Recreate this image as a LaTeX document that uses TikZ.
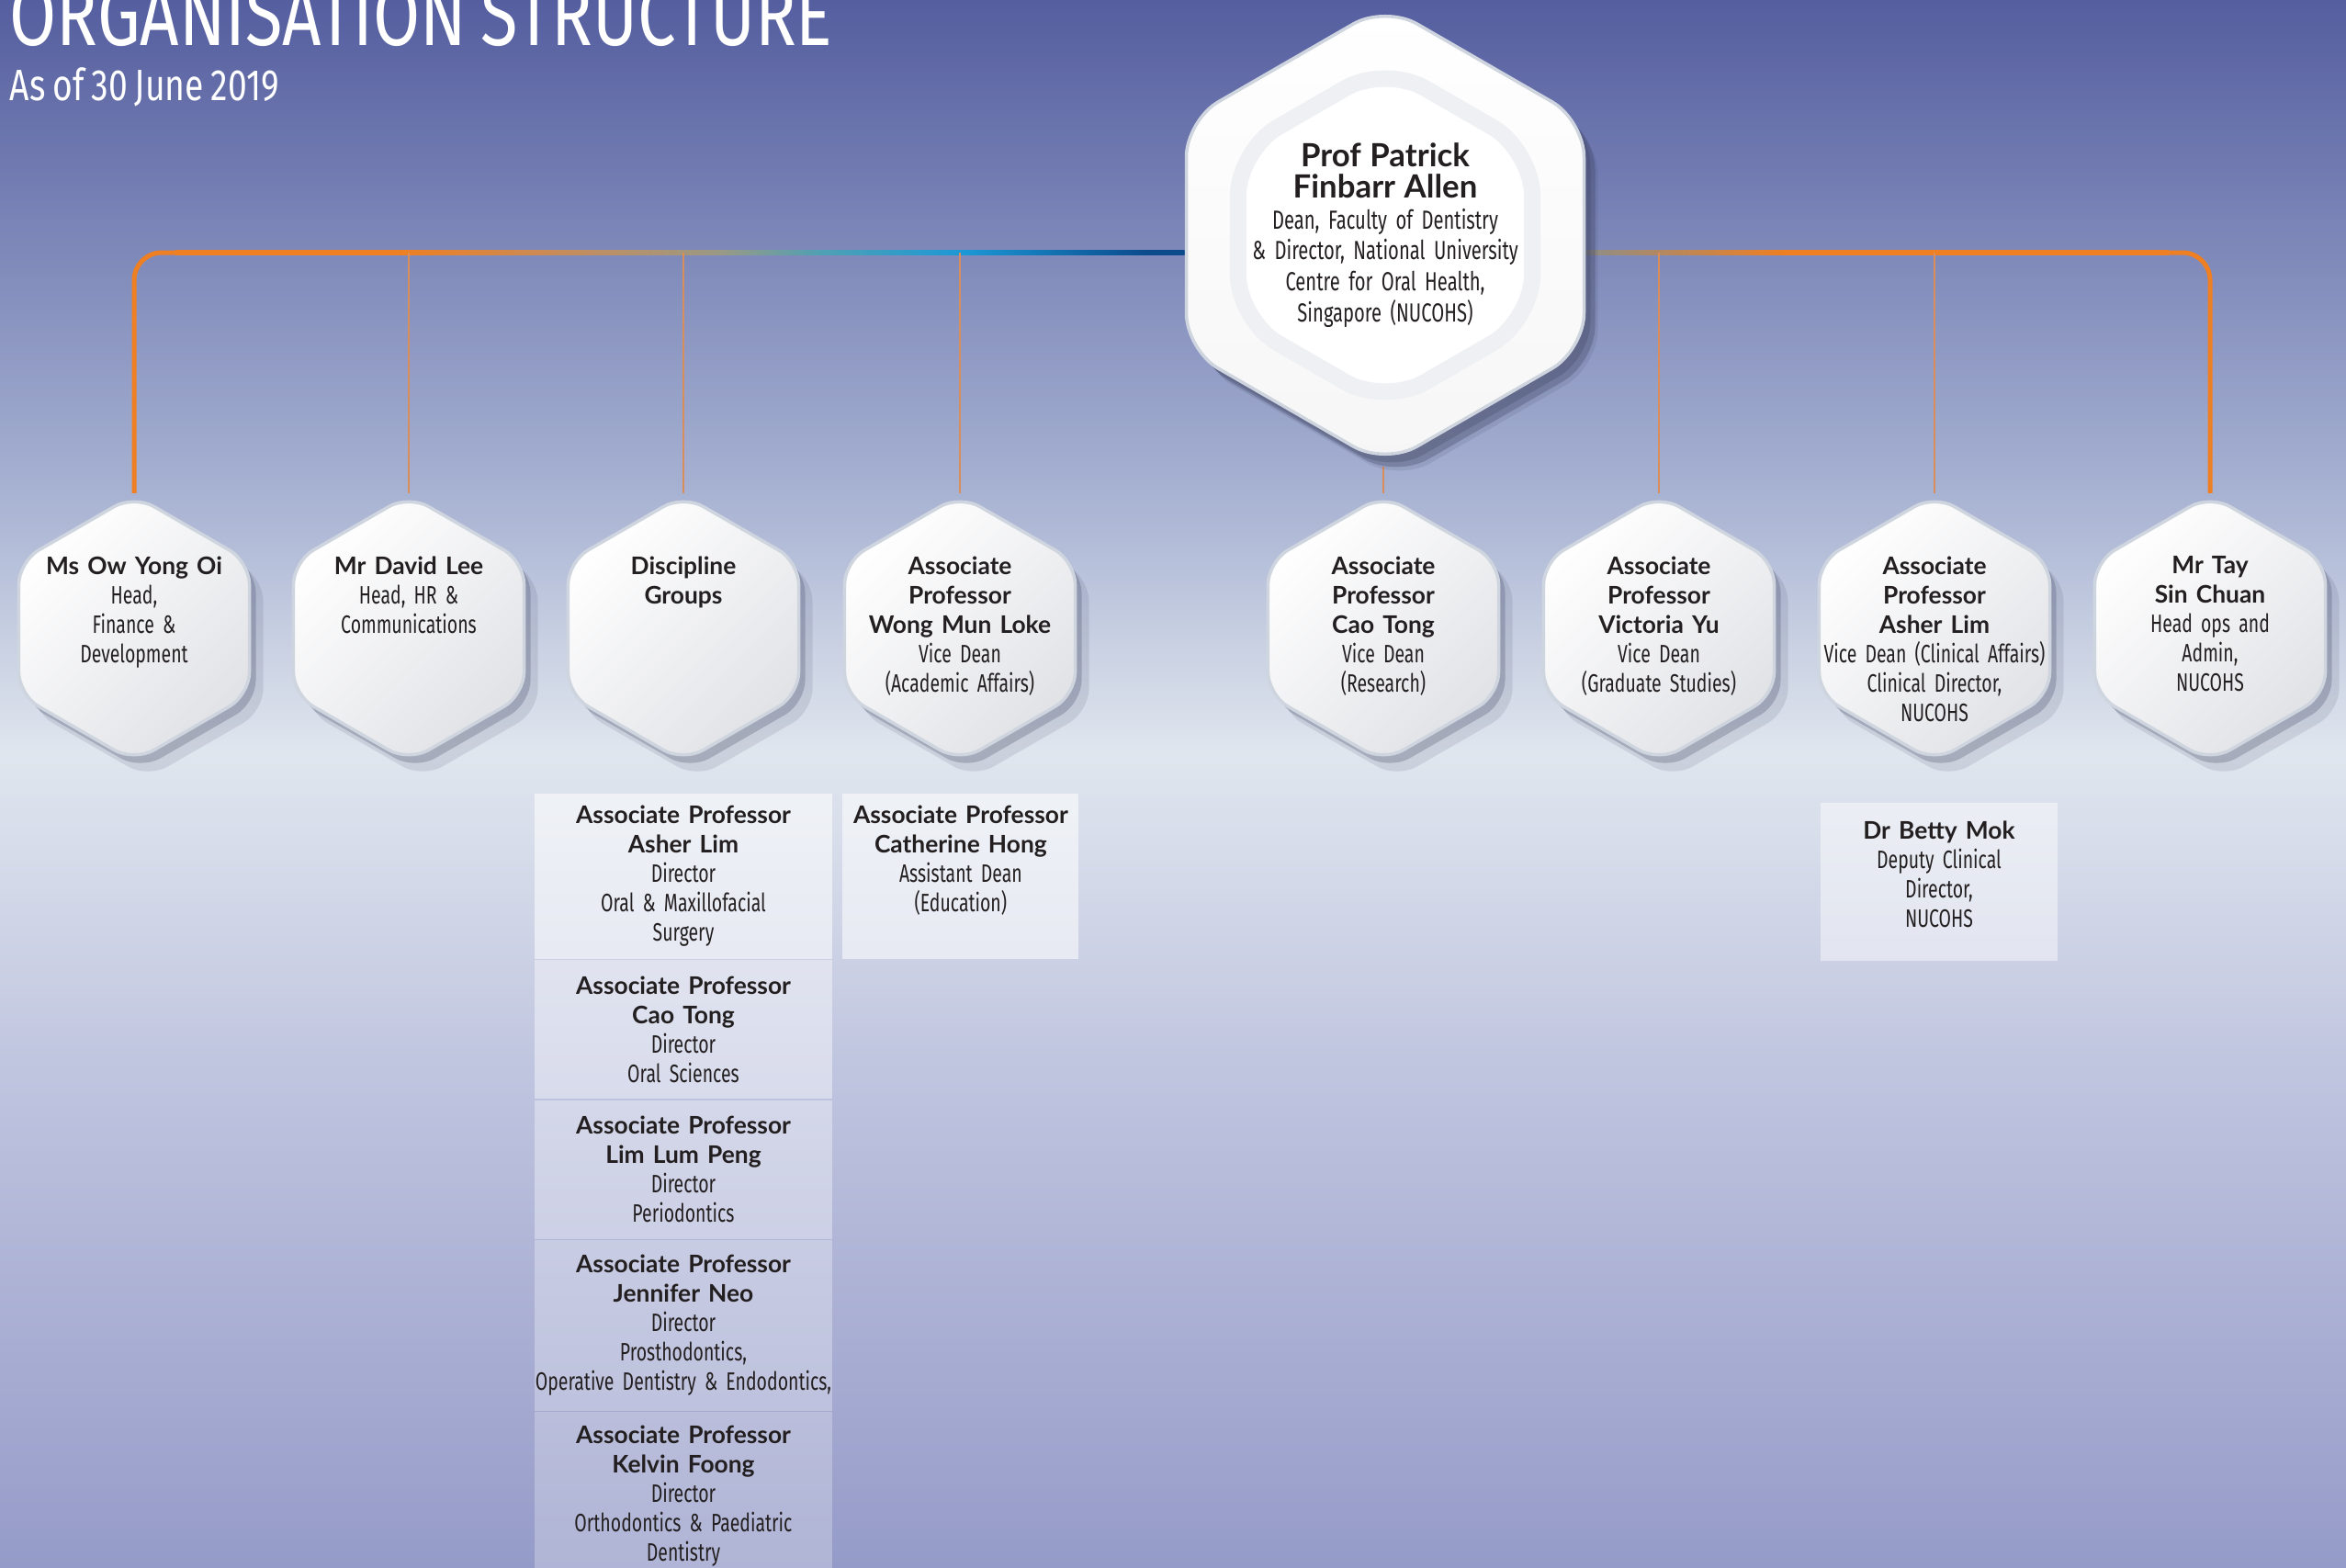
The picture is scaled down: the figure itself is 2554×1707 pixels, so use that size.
\documentclass[tikz,border=0pt]{standalone}
\usepackage{fontspec}
\setmainfont{Fira Sans}
\newfontfamily\namefont{Lato}
\newfontfamily\descfont{Fira Sans}[FakeStretch=0.71,WordSpace=0.6]
\newfontfamily\titlefont{Fira Sans}[FakeStretch=0.78,WordSpace=0.8]
\usetikzlibrary{shapes.geometric}
\usetikzlibrary{shadows}
\usetikzlibrary{positioning,calc,backgrounds}
\hyphenpenalty=10000
\exhyphenpenalty=10000
\definecolor{ink}{HTML}{231F20}
\definecolor{orng}{HTML}{EE7F22}
\definecolor{tan}{HTML}{C88C5A}
\definecolor{olive}{HTML}{9A9986}
\definecolor{tealish}{HTML}{4FA0B4}
\definecolor{skyblue}{HTML}{1C98D6}
\definecolor{navy}{HTML}{0B4B8C}
\definecolor{greyol}{HTML}{8E8E88}
\definecolor{feed}{HTML}{D98D5A}
\definecolor{rim}{HTML}{CFD5DF}
\definecolor{hexgray}{HTML}{E1E2E6}
\definecolor{shadowc}{HTML}{3A3F5C}
\definecolor{ringgray}{HTML}{EFF0F3}
\definecolor{bgtop}{HTML}{555E9F}
\definecolor{bghigh}{HTML}{A3AED0}
\definecolor{bgmid}{HTML}{E0E6EE}
\definecolor{bglow}{HTML}{BDC2DE}
\definecolor{bgbot}{HTML}{959BC8}
\pgfdeclareverticalshading{bgshade}{100bp}{color(0bp)=(bgbot); color(25bp)=(bgbot); color(40bp)=(bglow); color(51bp)=(bgmid); color(60bp)=(bghigh); color(75bp)=(bgtop); color(100bp)=(bgtop)}
\pgfdeclarehorizontalshading{barleft}{100bp}{color(0bp)=(orng); color(36bp)=(orng); color(44bp)=(tan); color(52bp)=(olive); color(57bp)=(tealish); color(64bp)=(skyblue); color(73bp)=(navy); color(100bp)=(navy)}
\pgfdeclarehorizontalshading{barright}{100bp}{color(0bp)=(greyol); color(25bp)=(greyol); color(42bp)=(orng); color(100bp)=(orng)}
\newcommand{\who}[1]{{\namefont\bfseries\fontsize{7.5}{9.1}\selectfont #1}}

\begin{document}
\begin{tikzpicture}[x=0.1mm,y=-0.1mm,
		hexa/.style={regular polygon,regular polygon sides=6,shape border rotate=30,minimum size=29mm,inner sep=0pt,
			rounded corners=2.5mm,draw=rim,line width=0.35mm,top color=white,bottom color=hexgray,shading angle=45,
			drop shadow={shadow xshift=0.7mm,shadow yshift=-0.9mm,opacity=.25,fill=shadowc},
			drop shadow={shadow xshift=1.5mm,shadow yshift=-1.8mm,opacity=.12,fill=shadowc}},
		hexlabel/.style={text width=25mm,align=center,inner sep=0pt,text=ink,font=\descfont\fontsize{7.8}{9.1}\selectfont},
		gbox/.style={rectangle,fill=white,fill opacity=#1,text opacity=1,inner sep=0pt,align=center,text=ink,
			font=\descfont\fontsize{7.8}{9.1}\selectfont},
		barline/.style={draw=orng,line width=0.5mm,rounded corners=3mm},
		feeder/.style={draw=feed,line width=0.28mm}]
	\useasboundingbox (0,0) rectangle (2554,1707);
	\clip (0,0) rectangle (2554,1707);

	\node[anchor=base west,inner sep=0pt,text=white,font=\titlefont\fontsize{27}{27}\selectfont] (title) at (10,49) {ORGANISATION STRUCTURE};
	\node[anchor=base west,inner sep=0pt,text=white,font=\titlefont\fontsize{13.6}{14}\selectfont] (asof) at (10,109) {As of 30 June 2019};

	% dean
	\node[hexa,minimum size=50mm,rounded corners=4mm,top color=white,bottom color=gray!7,
		drop shadow={shadow xshift=1.2mm,shadow yshift=-1.4mm,opacity=.3,fill=shadowc}] (dean) at (1508,256) {};
	\node[regular polygon,regular polygon sides=6,shape border rotate=30,minimum size=37mm,rounded corners=5mm,
		draw=ringgray,line width=1.8mm,fill=white] (deanin) at (dean) {};
	\node[hexlabel,text width=31mm,font=\descfont\fontsize{8.1}{9.6}\selectfont] (deantxt) at (dean)
		{{\namefont\bfseries\fontsize{9.9}{9.6}\selectfont Prof Patrick\\Finbarr Allen}\\Dean, Faculty of Dentistry\\\& Director, National University\\Centre for Oral Health,\\Singapore (NUCOHS)};

	% second row
	\node[hexa] (h1) at (146,684) {};
	\node[hexa] (h2) at (445,684) {};
	\node[hexa] (h3) at (744,684) {};
	\node[hexa] (h4) at (1045,684) {};
	\node[hexa] (h5) at (1506,684) {};
	\node[hexa] (h6) at (1806,684) {};
	\node[hexa] (h7) at (2106,684) {};
	\node[hexa] (h8) at (2406,684) {};
	\node[hexlabel,below=6.8mm of h1.north] (t1) {\who{Ms Ow Yong Oi}\\Head,\\Finance \&\\Development};
	\node[hexlabel,below=6.8mm of h2.north] (t2) {\who{Mr David Lee}\\Head, HR \&\\Communications};
	\node[hexlabel,below=6.8mm of h3.north] (t3) {\who{Discipline\\Groups}};
	\node[hexlabel,below=6.8mm of h4.north] (t4) {\who{Associate\\Professor\\Wong Mun Loke}\\Vice Dean\\(Academic Affairs)};
	\node[hexlabel,below=6.8mm of h5.north] (t5) {\who{Associate\\Professor\\Cao Tong}\\Vice Dean\\(Research)};
	\node[hexlabel,below=6.8mm of h6.north] (t6) {\who{Associate\\Professor\\Victoria Yu}\\Vice Dean\\(Graduate Studies)};
	\node[hexlabel,below=6.8mm of h7.north] (t7) {\who{Associate\\Professor\\Asher Lim}\\Vice Dean (Clinical Affairs)\\Clinical Director,\\NUCOHS};
	\node[hexlabel,below=6.8mm of h8.north] (t8) {\who{Mr Tay\\Sin Chuan}\\Head ops and\\Admin,\\NUCOHS};

	% boxes
	\node[gbox=.55,text width=32.4mm,minimum height=18mm,below=3.2mm of h3] (dg1) {\who{Associate Professor\\Asher Lim}\\Director\\Oral \& Maxillofacial\\Surgery};
	\node[gbox=.42,text width=32.4mm,minimum height=15.1mm,below=0pt of dg1] (dg2) {\who{Associate Professor\\Cao Tong}\\Director\\Oral Sciences};
	\node[gbox=.36,text width=32.4mm,minimum height=15.1mm,below=0pt of dg2] (dg3) {\who{Associate Professor\\Lim Lum Peng}\\Director\\Periodontics};
	\node[gbox=.3,text width=32.4mm,minimum height=18.6mm,below=0pt of dg3] (dg4) {\who{Associate Professor\\Jennifer Neo}\\Director\\Prosthodontics,\\\makebox[0pt]{Operative Dentistry \& Endodontics,}};
	\node[gbox=.26,text width=32.4mm,minimum height=18.2mm,below=0pt of dg4] (dg5) {\who{Associate Professor\\Kelvin Foong}\\Director\\Orthodontics \& Paediatric\\Dentistry};
	\node[gbox=.55,text width=25.7mm,minimum height=18mm,text depth=13.4mm,right=1mm of dg1] (ad) {\who{Associate Professor\\Catherine Hong}\\Assistant Dean\\(Education)};
	\node[gbox=.45,text width=25.8mm,minimum height=17.2mm,text depth=11.2mm,below=4.2mm of h7,xshift=0.5mm] (bm) {\who{Dr Betty Mok}\\Deputy Clinical\\Director,\\NUCOHS};

	\begin{pgfonlayer}{background}
		\shade[shading=bgshade] (0,0) rectangle (2554,1707);
		\coordinate (bar) at (1508,275);
		\draw[barline] (h1.north) -- (h1.north |- bar) -- ++(50,0);
		\draw[barline] (h8.north) -- (h8.north |- bar) -- ++(-50,0);
		\shade[shading=barleft] ($(h1.north |- bar)+(45,-2.5)$) rectangle ($(dean.west |- bar)+(0,2.5)$);
		\shade[shading=barright] ($(dean.east |- bar)+(0,-2.5)$) rectangle ($(h8.north |- bar)+(-45,2.5)$);
		\foreach \h in {h2,h3,h4,h6,h7}
			\draw[feeder] (\h.north |- bar) -- (\h.north);
		\draw[feeder] (h5.north |- dean.south) -- (h5.north);
	\end{pgfonlayer}
\end{tikzpicture}
\end{document}
